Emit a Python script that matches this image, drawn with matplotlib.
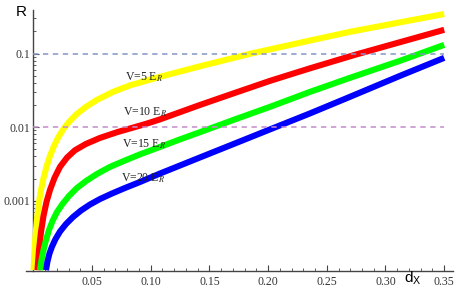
"""Reflection R versus d_x for several lattice depths (log scale)."""
import matplotlib
matplotlib.use("Agg")
import matplotlib.pyplot as plt
from matplotlib.ticker import MultipleLocator, LogLocator, FixedLocator, FixedFormatter, NullFormatter

# values
d_yellow = [0.00026, 0.00085, 0.00162, 0.00264, 0.00375, 0.00503, 0.00673, 0.00877, 0.01124,
            0.01422, 0.01763, 0.02147, 0.02572, 0.03083, 0.03722, 0.04489, 0.05426, 0.06789,
            0.08237, 0.10792, 0.14199, 0.18458, 0.22717, 0.26976, 0.35]
r_yellow = [1.14e-4, 1.82e-4, 2.92e-4, 4.53e-4, 6.81e-4, 9.91e-4, 1.44e-3, 2.04e-3, 2.88e-3,
            4.06e-3, 5.55e-3, 7.36e-3, 9.46e-3, 1.197e-2, 1.514e-2, 1.884e-2, 2.344e-2, 3.01e-2,
            3.69e-2, 4.82e-2, 6.70e-2, 9.90e-2, 0.140, 0.197, 0.344]

d_red = [0.00358, 0.00486, 0.00656, 0.00869, 0.01124, 0.01422, 0.01806, 0.02274, 0.02871,
         0.03552, 0.04489, 0.05682, 0.07215, 0.08407, 0.09600, 0.10792, 0.14199, 0.17181,
         0.20162, 0.23569, 0.27402, 0.35]
r_red = [1.14e-4, 2.13e-4, 3.75e-4, 6.19e-4, 9.60e-4, 1.40e-3, 2.04e-3, 2.88e-3, 3.85e-3,
         4.85e-3, 5.91e-3, 7.13e-3, 8.61e-3, 9.75e-3, 1.107e-2, 1.274e-2, 2.00e-2, 2.92e-2,
         4.25e-2, 6.29e-2, 9.60e-2, 0.210]

d_green = [0.00571, 0.00698, 0.00869, 0.01082, 0.01337, 0.01635, 0.02019, 0.02487, 0.03041,
           0.03722, 0.04489, 0.05426, 0.06533, 0.07811, 0.09088, 0.10792, 0.12496, 0.14370,
           0.17181, 0.20162, 0.23569, 0.26976, 0.31235, 0.35]
r_green = [1.14e-4, 1.56e-4, 2.13e-4, 2.92e-4, 3.99e-4, 5.29e-4, 7.02e-4, 9.02e-4, 1.16e-3,
           1.49e-3, 1.85e-3, 2.31e-3, 2.88e-3, 3.52e-3, 4.26e-3, 5.38e-3, 6.81e-3, 8.73e-3,
           1.274e-2, 1.884e-2, 3.01e-2, 4.67e-2, 7.96e-2, 0.131]

d_blue = [0.01082, 0.01210, 0.01380, 0.01593, 0.01891, 0.02274, 0.02785, 0.03382, 0.04063,
          0.04830, 0.05682, 0.06704, 0.07811, 0.09088, 0.10792, 0.14199, 0.17181, 0.20162,
          0.23569, 0.26976, 0.31235, 0.35]
r_blue = [1.14e-4, 1.50e-4, 1.92e-4, 2.38e-4, 3.01e-4, 3.81e-4, 4.82e-4, 6.00e-4, 7.36e-4,
          8.88e-4, 1.054e-3, 1.253e-3, 1.489e-3, 1.796e-3, 2.34e-3, 3.87e-3, 6.00e-3, 9.31e-3,
          1.535e-2, 2.58e-2, 4.97e-2, 8.73e-2]

labels = ["V=5 E$_R$", "V=10 E$_R$", "V=15 E$_R$", "V=20 E$_R$"]
label_x = [0.0784, 0.0767, 0.0758, 0.0750]
label_y = [0.0430, 0.01419, 0.00533, 0.001815]

ref_levels = [0.1, 0.01]
xticks = [0.05, 0.10, 0.15, 0.20, 0.25, 0.30, 0.35]
yticks = [0.001, 0.01, 0.1]
ytick_labels = ["0.001", "0.01", "0.1"]

W, H = 456, 293
fig = plt.figure(figsize=(W / 100, H / 100), dpi=100)
ax = fig.add_axes([26 / W, 1 - 270.7 / H, 427 / W, 260.7 / H])

ax.set_yscale("log")
ax.set_xlim(-0.0062, 0.3575)
ax.set_ylim(1.12e-4, 0.39)

# dashed reference lines
for lvl, col in zip(ref_levels, ["#8496c6", "#c48ccc"]):
    ax.plot([0, 0.35], [lvl, lvl], color=col, lw=1.1, ls=(0, (3.5, 3)), zorder=5)

for d, r, col in [(d_yellow, r_yellow, "#ffff00"), (d_red, r_red, "#ff0000"),
                  (d_green, r_green, "#00ff00"), (d_blue, r_blue, "#0000ff")]:
    ax.plot(d, r, color=col, lw=4.4, solid_capstyle="butt", solid_joinstyle="round", zorder=3)

for txt, x, y in zip(labels, label_x, label_y):
    ax.text(x, y, txt, fontsize=8.5, family="Liberation Serif", math_fontfamily="stix",
            ha="left", va="baseline", color="#222222", zorder=6)

# Mathematica-like axes
for s in ["top", "right"]:
    ax.spines[s].set_visible(False)
ax.spines["left"].set_position(("data", 0))
for s in ["left", "bottom"]:
    ax.spines[s].set_color("#444444")
    ax.spines[s].set_linewidth(1.0)

ax.xaxis.set_major_locator(FixedLocator(xticks))
ax.xaxis.set_major_formatter(FixedFormatter([f"{v:.2f}" for v in xticks]))
ax.xaxis.set_minor_locator(MultipleLocator(0.01))
ax.yaxis.set_major_locator(FixedLocator(yticks))
ax.yaxis.set_major_formatter(FixedFormatter(ytick_labels))
ax.yaxis.set_minor_locator(LogLocator(base=10, subs=range(2, 10)))
ax.yaxis.set_minor_formatter(NullFormatter())

ax.tick_params(which="major", direction="in", length=4.5, width=0.8, color="#444444",
               labelsize=8.5, labelcolor="#333333")
ax.tick_params(which="minor", direction="in", length=2.5, width=0.6, color="#444444")
ax.tick_params(axis="x", pad=4)
ax.tick_params(axis="y", pad=2)
for lab in ax.get_xticklabels() + ax.get_yticklabels():
    lab.set_family("Liberation Serif")

fig.text(21 / W, 1 - 12 / H, "R", fontsize=11, family="Liberation Sans", ha="center", va="center")
fig.text(404 / W, 1 - 283 / H, r"$\mathregular{d_X}$", fontsize=11, family="Liberation Sans",
         ha="left", va="baseline")

fig.savefig("out.png", dpi=100)
plt.close(fig)
